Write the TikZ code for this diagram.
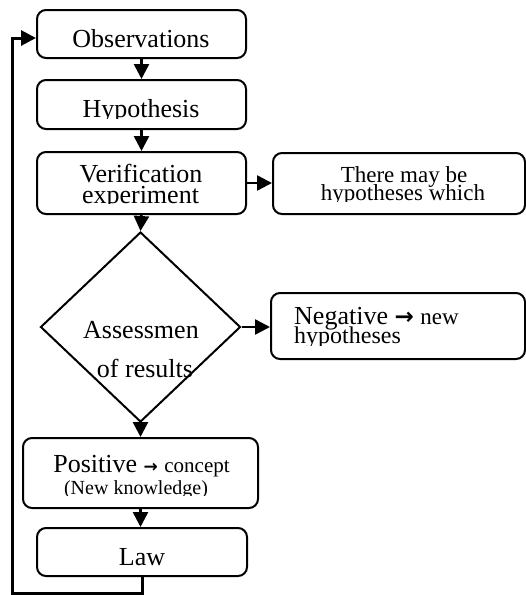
\documentclass[tikz,border=0pt]{standalone}
\usepackage{fontspec}
\setmainfont{Liberation Serif}
\newfontfamily\arrfont{DejaVu Sans}
\usetikzlibrary{shapes.geometric,arrows.meta}
\begin{document}
\begin{tikzpicture}[x=1pt,y=-1pt,
  box/.style={draw, line width=2pt, rounded corners=9pt, inner sep=0pt},
  conn/.style={line width=2.5pt, -{Triangle[length=15pt,width=15pt]}},
  big/.style={font=\fontsize{26}{30}\selectfont, inner sep=0pt, anchor=base},
  mid/.style={font=\fontsize{23}{26}\selectfont, inner sep=0pt, anchor=base},
  sml/.style={font=\fontsize{20}{24}\selectfont, inner sep=0pt, anchor=base}]
\useasboundingbox (0,0) rectangle (526,595);
% boxes
\node[box, minimum width=209pt, minimum height=48pt] (obs) at (141.5,34) {};
\node[box, minimum width=209pt, minimum height=49pt] (hyp) at (141.5,104.5) {};
\node[box, minimum width=209pt, minimum height=62pt] (ver) at (141.5,183) {};
\node[draw, diamond, line width=2pt, minimum width=200pt, minimum height=190pt, inner sep=0pt] (dia) at (140.5,327) {};
\node[box, minimum width=235pt, minimum height=70pt] (pos) at (140.5,473) {};
\node[box, minimum width=210pt, minimum height=48pt] (law) at (142,552) {};
\node[box, minimum width=252pt, minimum height=61pt] (thr) at (399,183.5) {};
\node[box, minimum width=254pt, minimum height=66pt] (neg) at (398,326) {};
% connectors
\draw[conn] (obs) -- (hyp);
\draw[conn] (hyp) -- (ver);
\draw[conn] (ver.south) -- (dia.north);
\draw[conn] (dia.south) -- (pos.north);
\draw[conn] (pos.south) -- (pos.south |- law.north);
\draw[conn] (ver.east) -- (ver.east -| thr.west);
\draw[conn] (dia.east) -- (dia.east -| neg.west);
\coordinate (fb1) at (12,593);
\coordinate (fb2) at (12,38);
\draw[line width=3pt, line join=miter, -{Triangle[length=15pt,width=15pt]}]
  (law.south) |- (fb1) -- (fb2) -- (fb2 -| obs.west);
% texts
\node[big] (tobs) at (141,47) {Observations};
\begin{scope}
  \clip (37,80) rectangle (246,118);
  \node[big] (thyp) at (141,117) {Hypothesis};
\end{scope}
\begin{scope}
  \clip (37,152) rectangle (246,203.5);
  \node[big] (tver1) at (141,182) {Verification};
  \node[big] (tver2) at (140.5,203) {experiment};
\end{scope}
\node[big] (tdia1) at (141,338) {Assessmen};
\node[big] (tdia2) at (145,377) {of results};
\begin{scope}
  \clip (273,153) rectangle (525,201);
  \node[mid] (tthr1) at (404,182) {There may be};
  \node[mid] (tthr2) at (403,200) {hypotheses which};
\end{scope}
\begin{scope}
  \clip (271,293) rectangle (525,345);
  \node[big, anchor=base west] (tneg1) at (294,324) {Negative {\arrfont\bfseries\fontsize{23}{26}\selectfont →} {\fontsize{23}{26}\selectfont new}};
  \node[mid, font=\fontsize{24}{26}\selectfont, anchor=base west] (tneg2) at (294,343) {hypotheses};
\end{scope}
\node[big] (tpos1) at (141.5,472) {Positive {\arrfont\bfseries\fontsize{17}{20}\selectfont →} {\fontsize{21}{24}\selectfont concept}};
\begin{scope}
  \clip (23,438) rectangle (258,495.5);
  \node[sml] (tpos2) at (136,494) {(New knowledge)};
\end{scope}
\node[big] (tlaw) at (142,565) {Law};
\end{tikzpicture}
\end{document}
